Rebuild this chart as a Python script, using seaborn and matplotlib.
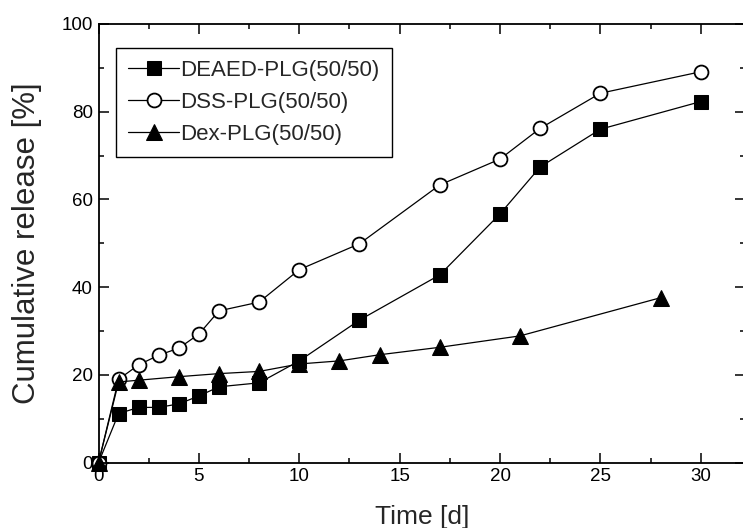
import numpy as np
import matplotlib
matplotlib.use('Agg')
import matplotlib.pyplot as plt
import seaborn as sns
from matplotlib.ticker import MultipleLocator

# release data
deaed_days = [0, 1, 2, 3, 4, 5, 6, 8, 10, 13, 17, 20, 22, 25, 30]
deaed_release = [0, 11.2, 12.6, 12.6, 13.4, 15.2, 17.3, 18.2, 23.2, 32.5, 42.8, 56.7, 67.4, 76.0, 82.3]

dss_days = [0, 1, 2, 3, 4, 5, 6, 8, 10, 13, 17, 20, 22, 25, 30]
dss_release = [0, 19.0, 22.3, 24.5, 26.1, 29.3, 34.6, 36.6, 44.0, 49.9, 63.3, 69.2, 76.2, 84.2, 89.1]

dex_days = [0, 1, 2, 4, 6, 8, 10, 12, 14, 17, 21, 28]
dex_release = [0, 18.4, 18.8, 19.6, 20.3, 20.8, 22.5, 23.2, 24.6, 26.3, 28.9, 37.6]

series_labels = ['DEAED-PLG(50/50)', 'DSS-PLG(50/50)', 'Dex-PLG(50/50)']

sns.set_style('ticks')
plt.rcParams['font.family'] = ['Liberation Sans', 'DejaVu Sans']

fig = plt.figure(figsize=(7.43, 5.28), dpi=100)
ax = fig.add_axes([0.1326, 0.1237, 0.870, 0.831])

common = dict(color='black', linewidth=0.9, markeredgecolor='black', clip_on=False)
sns.lineplot(x=deaed_days, y=deaed_release, ax=ax, marker='s', markersize=9.5,
             markerfacecolor='black', label=series_labels[0], **common)
sns.lineplot(x=dss_days, y=dss_release, ax=ax, marker='o', markersize=10,
             markerfacecolor='white', markeredgewidth=1.3, label=series_labels[1], **common)
sns.lineplot(x=dex_days, y=dex_release, ax=ax, marker='^', markersize=11,
             markerfacecolor='black', label=series_labels[2], **common)

ax.set_xlim(0, 32.2)
ax.set_ylim(0, 100)
ax.xaxis.set_major_locator(MultipleLocator(5))
ax.xaxis.set_minor_locator(MultipleLocator(2.5))
ax.yaxis.set_major_locator(MultipleLocator(20))
ax.yaxis.set_minor_locator(MultipleLocator(10))
ax.tick_params(which='both', direction='in', top=True, right=True, width=1.1, colors='black')
ax.tick_params(which='major', length=7, labelsize=13.5, pad=4)
ax.tick_params(which='minor', length=3.5)
for sp in ax.spines.values():
    sp.set_visible(True)
    sp.set_linewidth(1.3)
    sp.set_color('black')

ax.set_xlabel('Time [d]', fontsize=19, labelpad=14)
ax.set_ylabel('Cumulative release [%]', fontsize=22.5, labelpad=14)

leg = ax.legend(loc='upper left', bbox_to_anchor=(0.027, 0.945), borderaxespad=0,
                fontsize=16, frameon=True, fancybox=False, edgecolor='black',
                handlelength=2.3, handletextpad=0.05, labelspacing=0.48, borderpad=0.55)
leg.get_frame().set_linewidth(1.0)
leg.get_frame().set_alpha(1)

fig.savefig('out.png', dpi=100)
